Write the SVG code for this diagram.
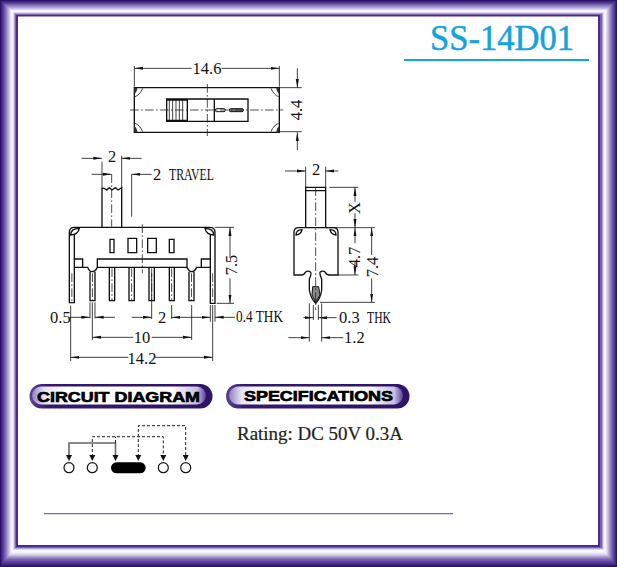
<svg xmlns="http://www.w3.org/2000/svg" width="617" height="567" viewBox="0 0 617 567">
<style>
.d{fill:none;stroke:#111;stroke-width:4}
.t{fill:none;stroke:#111;stroke-width:2.4}
.c{fill:none;stroke:#222;stroke-width:2.4;stroke-dasharray:26 7 5 7}
.a{fill:none;stroke:#111;stroke-width:2.4;marker-end:url(#ar)}
.h{fill:#111;font:16.500px "Liberation Serif",serif}
.m{text-anchor:middle}
.b{font:bold 15.500px "Liberation Sans",sans-serif;fill:#000;stroke:#000;stroke-width:.7;text-anchor:middle}
.ds{fill:none;stroke:#222;stroke-width:1;stroke-dasharray:3 2}
.cc{fill:#fff;stroke:#111;stroke-width:1.2}
.af{fill:#111}
</style>
<defs>
<marker id="ar" markerUnits="userSpaceOnUse" markerWidth="30" markerHeight="14" refX="26" refY="7" orient="auto"><path d="M0 2.500L26 7L0 11.500Z" fill="#111"/></marker>
<linearGradient id="pg" x1="0" x2="1" y1="0" y2="0"><stop offset="0" stop-color="#8f7fbc"/><stop offset=".07" stop-color="#e6e2f2"/><stop offset=".2" stop-color="#fff"/><stop offset=".8" stop-color="#fff"/><stop offset=".95" stop-color="#c8bee0"/><stop offset="1" stop-color="#5a3f98"/></linearGradient>
<linearGradient id="pe" x1="0" x2="1" y1="0" y2="0"><stop offset="0" stop-color="#5a4296"/><stop offset=".1" stop-color="#33196e"/><stop offset="1" stop-color="#2e1468"/></linearGradient>
</defs>
<rect width="617" height="567" fill="#fff"/>
<g id="frame">
<rect x="0" y="0" width="617" height="567" fill="#2c1268"/>
<rect x="1" y="1" width="615" height="564.500" fill="#3f2480"/>
<rect x="2" y="2" width="613" height="562" fill="#4e3490"/>
<rect x="3" y="3" width="611" height="559.500" fill="#5e469c"/>
<rect x="4" y="4" width="609" height="557" fill="#6e58a8"/>
<rect x="5" y="4.500" width="607" height="555" fill="#806cb4"/>
<rect x="6" y="5.500" width="605" height="553" fill="#9382c0"/>
<rect x="7" y="6.500" width="603" height="551" fill="#a698cc"/>
<rect x="8" y="7.500" width="601" height="549" fill="#bbb0da"/>
<rect x="9" y="8.500" width="599" height="547" fill="#d0c8e6"/>
<rect x="10" y="9.500" width="597" height="545" fill="#e6e1f2"/>
<rect x="11" y="10" width="595" height="543" fill="#f4f2fa"/>
<rect x="12" y="11" width="593" height="541" fill="#f8f6fc"/>
<rect x="13" y="12" width="591" height="538" fill="#e0daee"/>
<rect x="14" y="13" width="589" height="536" fill="#b0a2d2"/>
<rect x="15" y="14" width="587" height="534" fill="#7a62ae"/>
<rect x="16" y="15" width="584" height="532" fill="#4a2c8e"/>
<rect x="18" y="16.500" width="580" height="528.500" fill="#fff"/>
</g>
<g id="title">
<text x="430" y="50" font-family="Liberation Serif,serif" font-size="35" fill="#14a3e0" stroke="#14a3e0" stroke-width=".5" textLength="144" lengthAdjust="spacingAndGlyphs">SS-14D01</text>
<rect x="404" y="59" width="185" height="2" fill="#14a8e2"/>
</g>
<g id="top-view">
<g transform="translate(120 50) scale(.33333)">
<path class="d" d="M43 113H478V247H43Z"/>
<path class="d" d="M140 147H384V214H140ZM283 147V214M202 147V214"/>
<path class="t" d="M148 147V214M158 147V214M168 147V214M178 147V214M188 147V214"/>
<path d="M140 147H202V152H140ZM140 209H202V214H140Z" fill="#111"/>
<path class="t" d="M45 140Q60 135 68 115M45 220Q60 225 68 245M476 140Q461 135 453 115M476 220Q461 225 453 245"/>
<path d="M43 113H52Q52 125 43 132ZM43 247H52Q52 235 43 228ZM478 113H469Q469 125 478 132ZM478 247H469Q469 235 478 228Z" fill="#333"/>
<rect x="286" y="176" width="30" height="9" rx="4" fill="#fff" stroke="#111" stroke-width="3"/>
<rect x="328" y="176" width="42" height="9" rx="4" fill="#777" stroke="#111" stroke-width="3"/>
<path class="c" d="M30 180H490M262 102V258"/>
<path class="t" d="M43 48V110M478 48V110M480 113H545M480 245H545"/>
<path class="a" d="M215 55H43"/><path class="a" d="M305 55H478"/>
<path class="a" d="M532 55V113"/><path class="a" d="M532 300V247"/>
</g>
<text class="h m" x="207" y="74">14.6</text>
<text class="h m" transform="translate(302 110) rotate(-90)">4.4</text>
</g>
<g id="side-view">
<g transform="translate(40 145) scale(.33333)">
<path class="d" d="M186 247V130Q192 128 200 135L208 128L216 135L226 128L234 135L245 128V247"/>
<path class="d" d="M88 475V262Q88 247 103 247H510Q525 247 525 262V475H511V268M103 268V473H88"/>
<path class="d" d="M103 367H143C146 375 148 380 156 380C165 380 168 375 172 367V342H441V367C445 375 448 380 455 380C462 380 466 375 470 367H510"/>
<path class="d" d="M172 367H441M103 342H128V367M510 342H484V367"/>
<path class="d" d="M92 270Q92 250 118 250Q115 268 92 270ZM521 270Q521 250 495 250Q498 268 521 270Z"/>
<path class="d" d="M150 380V467H165V380M208 367V467H224V367M267 367V467H283V367M327 367V467H343V367M388 367V467H403V367M447 380V467H462V380"/>
<path class="d" d="M210 283H222V323H210ZM264 280H290V323H264ZM323 280H349V323H323ZM388 283H402V323H388Z"/>
<path class="c" d="M95.500 385V470M157.500 385V465M216 370V465M275 370V465M335 370V465M395 370V465M454.500 385V465M518 385V470"/>
<path class="c" d="M215 88V245M307 238V385"/>
<path class="t" d="M186 50V130M245 32V130M275 88V215M525 247H582M530 475H582M92 482V648M150 472V520M157 472V585M165 472V520M335 385V522M395 480V522M455 480V585M511 480V530M525 480V530M518 480V648"/>
<path class="a" d="M125 40H186"/><path class="a" d="M305 40H245"/>
<path class="a" d="M155 88H215"/><path class="a" d="M335 88H275"/>
<path class="a" d="M570 340V247"/><path class="a" d="M570 400V475"/>
<path class="a" d="M88 517H150"/><path class="a" d="M225 517H165"/>
<path class="a" d="M275 517H335"/><path class="a" d="M450 517H395"/><path class="a" d="M450 517H511"/>
<path class="a" d="M585 517H525"/>
<path class="a" d="M280 577H157"/><path class="a" d="M335 577H455"/>
<path class="a" d="M265 637H92"/><path class="a" d="M345 637H518"/>
</g>
<text class="h m" x="112" y="162">2</text>
<text class="h" x="153" y="180">2</text>
<text class="h" x="169" y="180" textLength="45" lengthAdjust="spacingAndGlyphs">TRAVEL</text>
<text class="h m" transform="translate(237 265) rotate(-90)">7.5</text>
<text class="h" x="50" y="323">0.5</text>
<text class="h m" x="162" y="323">2</text>
<text class="h" x="236" y="322" textLength="47" lengthAdjust="spacingAndGlyphs">0.4 THK</text>
<text class="h m" x="142" y="343">10</text>
<text class="h m" x="142" y="364">14.2</text>
</g>
<g id="front-view">
<g transform="translate(270 155) scale(.33333)">
<path class="d" d="M107 218V97H167V218M107 107H167"/>
<path class="d" d="M72 232Q72 218 86 218H190Q204 218 204 232V360H178Q170 360 166 352Q158 345 150 352Q148 356 155 372V405Q152 430 137 445Q122 430 118 405V372Q125 356 122 352Q114 345 106 352Q102 360 94 360H72Z"/>
<path class="d" d="M78 240Q78 224 96 224Q94 238 78 240ZM198 240Q198 224 180 224Q182 238 198 240Z"/>
<path d="M128 395L146 395L150 420L137 442L126 420Z" fill="#888" stroke="#111" stroke-width="3"/>
<path class="c" d="M137 97V465"/>
<path class="t" d="M107 35V97M167 35V97M178 97H265M167 218H315M204 360H265M150 442H315M118 445V560M155 445V560M130 450V495M145 450V495"/>
<path class="a" d="M45 48H107"/><path class="a" d="M205 48H167"/>
<path class="a" d="M255 140V97"/><path class="a" d="M255 175V218"/>
<path class="a" d="M255 265V218"/><path class="a" d="M255 320V360"/>
<path class="a" d="M305 300V218"/><path class="a" d="M305 370V442"/>
<path class="a" d="M100 488H130"/><path class="a" d="M200 488H145"/>
<path class="a" d="M55 548H118"/><path class="a" d="M220 548H155"/>
</g>
<text class="h m" x="316" y="175">2</text>
<text class="h m" transform="translate(360 208) rotate(-90)">X</text>
<text class="h m" transform="translate(360 257) rotate(-90)">4.7</text>
<text class="h m" transform="translate(378 267) rotate(-90)">7.4</text>
<text class="h" x="339" y="323">0.3</text>
<text class="h" x="367" y="323" textLength="24" lengthAdjust="spacingAndGlyphs">THK</text>
<text class="h" x="344" y="343">1.2</text>
</g>
<g id="banner-circuit">
<rect x="29.500" y="384" width="183" height="24.500" rx="12.200" fill="url(#pe)"/>
<rect x="32" y="386.500" width="174" height="18" rx="9" fill="url(#pg)"/>
<text class="b" x="118.500" y="402" textLength="163" lengthAdjust="spacingAndGlyphs">CIRCUIT DIAGRAM</text>
</g>
<g id="banner-spec">
<rect x="226" y="384" width="183.500" height="24.500" rx="12.200" fill="url(#pe)"/>
<rect x="229" y="386.500" width="174" height="18" rx="9" fill="url(#pg)"/>
<text class="b" x="318.500" y="401" textLength="149" lengthAdjust="spacingAndGlyphs">SPECIFICATIONS</text>
</g>
<text id="rating" x="237" y="440" font-family="Liberation Serif,serif" font-size="18" fill="#222" stroke="#222" stroke-width=".2" textLength="166" lengthAdjust="spacingAndGlyphs">Rating: DC 50V 0.3A</text>
<g id="connectors">
<path d="M69 457V443H115.500V457" fill="none" stroke="#666" stroke-width="1.600"/>
<path class="ds" d="M92.300 457V436.700H163.300V457M138.300 457V425.700H185.700V457M115.500 443V436.700"/>
<path class="af" d="M66 455H72L69 461ZM89.300 455H95.300L92.300 461ZM112.500 455H118.500L115.500 461ZM135.300 455H141.300L138.300 461ZM160.300 455H166.300L163.300 461ZM182.700 455H188.700L185.700 461Z"/>
</g>
<g id="contact-1"><circle class="cc" cx="69" cy="467.700" r="5"/></g>
<g id="contact-2"><circle class="cc" cx="92.300" cy="467.700" r="5"/></g>
<g id="contact-3"><rect x="111" y="462.300" width="34.700" height="11" rx="5.500" fill="#000"/></g>
<g id="contact-4"><circle class="cc" cx="163.300" cy="467.700" r="5"/></g>
<g id="contact-5"><circle class="cc" cx="185.700" cy="467.700" r="5"/></g>
<rect id="rule" x="44" y="513" width="409" height="1.300" fill="#7c6cba"/>
</svg>
